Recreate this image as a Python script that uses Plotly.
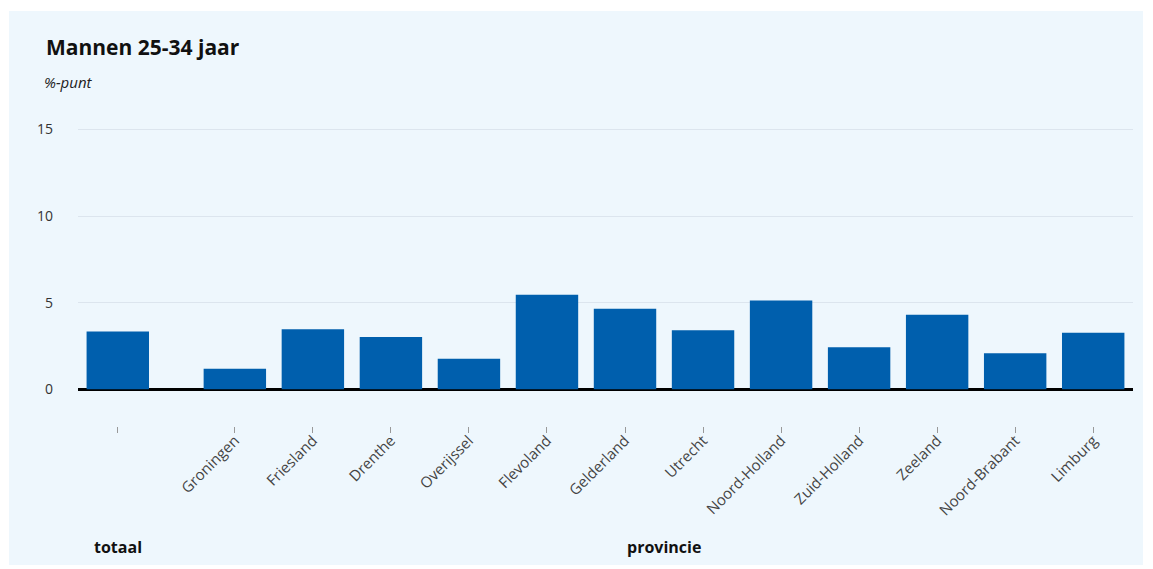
import plotly.graph_objects as go

categories = ["totaal", "Groningen", "Friesland", "Drenthe", "Overijssel", "Flevoland",
              "Gelderland", "Utrecht", "Noord-Holland", "Zuid-Holland", "Zeeland",
              "Noord-Brabant", "Limburg"]
values = [3.33, 1.19, 3.46, 3.02, 1.77, 5.46, 4.65, 3.41, 5.12, 2.43, 4.31, 2.08, 3.27]
tick_labels = [""] + categories[1:]
group_labels = ["totaal", "provincie"]
y_ticks = [0, 5, 10, 15]

# positions: totaal alone, then gap, then provinces
xpos = [0] + [1.5 + i for i in range(len(categories) - 1)]

BG = "#EEF7FD"
fig = go.Figure()
fig.add_trace(go.Bar(x=xpos, y=values, width=0.8, marker=dict(color="#005FAD", line=dict(width=0)),
                     hovertext=categories))

fig.update_layout(
    width=1153, height=569,
    margin=dict(l=78, r=20, t=120, b=143),
    paper_bgcolor="white", plot_bgcolor=BG,
    showlegend=False,
    font=dict(family="Open Sans, Noto Sans, sans-serif", color="#333333", size=13),
    bargap=0.2,
)
fig.update_xaxes(range=[-0.51, 13.01], tickvals=xpos, ticktext=tick_labels, tickangle=-45,
                 ticks="outside", ticklen=6, tickcolor="#999999", tickwidth=1,
                 showgrid=False, zeroline=False, showline=False, ticklabelstandoff=-7,
                 tickfont=dict(size=15, color="#444444"))
fig.update_yaxes(range=[-2.12, 15.55], tickvals=y_ticks, ticktext=[str(v) for v in y_ticks],
                 showgrid=True, gridcolor="#DCE5EE", gridwidth=1,
                 zeroline=True, zerolinecolor="#000000", zerolinewidth=3,
                 showline=False, ticks="", ticklabelstandoff=24,
                 tickfont=dict(size=14, color="#333333"))

# light blue card background
fig.add_shape(type="rect", xref="paper", yref="paper",
              x0=(9 - 78) / 1055, x1=(1143 - 78) / 1055,
              y0=(426 - 565) / 306, y1=(426 - 11) / 306,
              fillcolor=BG, line=dict(width=0), layer="below")

fig.add_annotation(xref="paper", yref="paper", x=(44 - 78) / 1055, y=(426 - 47) / 306,
                   xanchor="left", yanchor="middle", showarrow=False,
                   text="<b>Mannen 25-34 jaar</b>", font=dict(size=21, color="#111111"))
fig.add_annotation(xref="paper", yref="paper", x=(42 - 78) / 1055, y=(426 - 82) / 306,
                   xanchor="left", yanchor="middle", showarrow=False,
                   text="<i>%-punt</i>", font=dict(size=15, color="#222222"))

group_x = [xpos[0], (xpos[1] + xpos[-1]) / 2]
for gx, gl in zip(group_x, group_labels):
    fig.add_annotation(xref="x", yref="paper", x=gx, y=(426 - 547) / 306,
                       xanchor="center", yanchor="middle", showarrow=False,
                       text=f"<b>{gl}</b>", font=dict(size=16, color="#111111"))

fig.write_html("out.html", config={"displayModeBar": False},
               post_script="document.body.style.margin='0';")
